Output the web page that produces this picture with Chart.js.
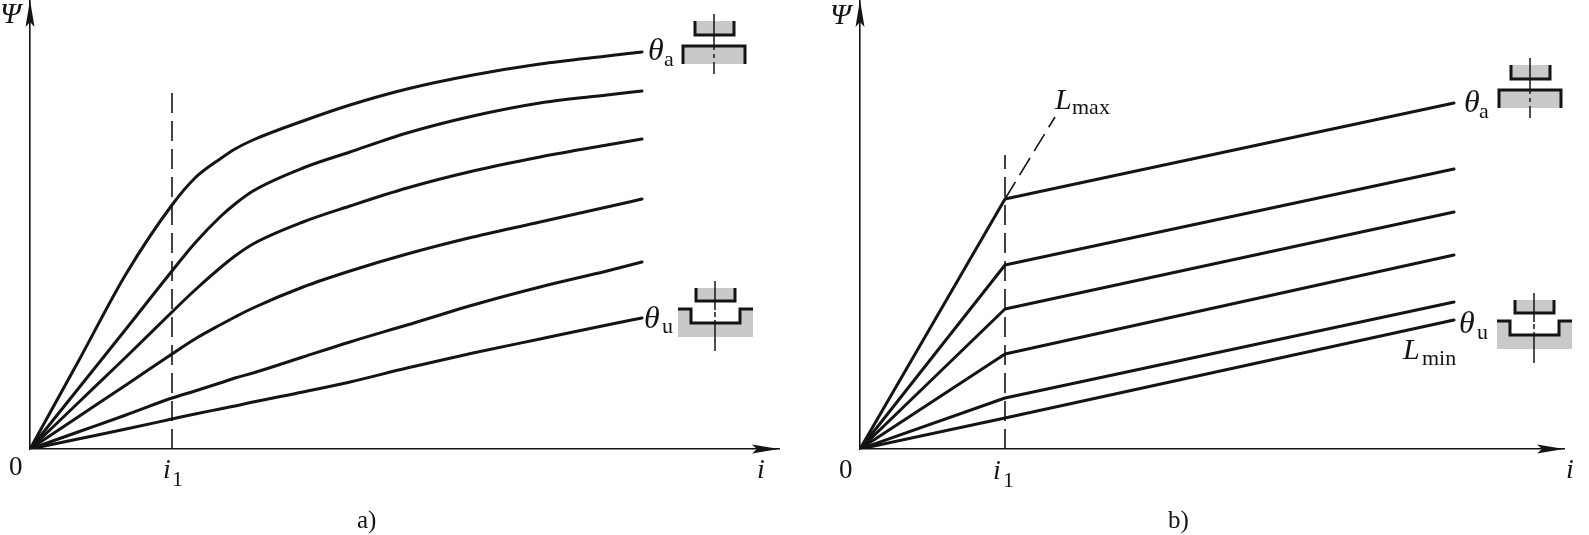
<!DOCTYPE html>
<html>
<head>
<meta charset="utf-8">
<title>Flux linkage curves</title>
<script src="https://cdn.jsdelivr.net/npm/chart.js@4"></script>
<style>
    html, body { margin: 0; padding: 0; background: #ffffff; }
    body { position: relative; width: 1589px; height: 535px; overflow: hidden; }
    canvas { position: absolute; top: 0; }
    #chartA { left: 0; }
    #chartB { left: 800px; }
</style>
</head>
<body>
<canvas id="chartA" width="800" height="535"></canvas>
<canvas id="chartB" width="789" height="535"></canvas>
<script>
// Panel a) saturating curves
const iA = [0, 48, 96, 142, 165, 190, 205, 223, 273, 320, 377, 443, 510, 577, 612];
const psiA1 = [0, 87, 175, 244, 271, 290, 300, 309, 328, 344, 360, 374, 385, 393, 397];
const psiA2 = [0, 60, 120, 178, 206, 232, 245, 258, 281, 297, 316, 333, 346, 354, 358];
const psiA3 = [0, 46, 92, 137, 159, 181, 193, 205, 227, 243, 261, 278, 292, 304, 310];
const psiA4 = [0, 32, 64, 95, 110, 124, 132, 141, 162, 178, 195, 212, 227, 242, 250];
const psiA5 = [0, 17, 34, 51, 58, 66, 71, 76, 92, 107, 124, 144, 162, 178, 187];
const psiA6 = [0, 10, 20, 30, 35, 40, 43, 47, 57, 67, 81, 96, 110, 124, 131];
const i1A = [142, 142];
const i1LineA = [0, 356];

// Panel b) piecewise linear curves
const iB = [0, 145, 594];
const psiB1 = [0, 250, 346];
const psiB2 = [0, 184, 280];
const psiB3 = [0, 140, 237];
const psiB4 = [0, 95, 194];
const psiB5 = [0, 51, 147];
const psiB6 = [0, 31, 129];
const i1B = [145, 145];
const i1LineB = [0, 294];
const lMaxI = [145, 195];
const lMaxPsi = [250, 332];

const INK = '#141414';
const GREY = '#c9c9c9';
const SERIF = '"Liberation Serif", "DejaVu Serif", serif';

function toPoints(xs, ys) {
    return xs.map((x, k) => ({ x: x, y: ys[k] }));
}

function curve(xs, ys, smooth) {
    return {
        data: toPoints(xs, ys),
        borderColor: INK,
        borderWidth: 3,
        pointRadius: 0,
        fill: false,
        borderCapStyle: 'round',
        borderJoinStyle: 'round',
        cubicInterpolationMode: smooth ? 'monotone' : 'default',
        tension: 0
    };
}

function dashed(xs, ys) {
    return {
        data: toPoints(xs, ys),
        borderColor: INK,
        borderWidth: 1.6,
        borderDash: [20, 8],
        pointRadius: 0,
        fill: false,
        tension: 0
    };
}

// Text pieces: [text, i, psi, font]
const MATH = 'italic 30px ' + SERIF;
const THETA = 'italic 32px ' + SERIF;
const UPRIGHT = '27px ' + SERIF;
const SUB = '22px ' + SERIF;

const labelsA = [
    ['Ψ', -30, 426, MATH],
    ['0', -21, -26, UPRIGHT],
    ['i', 133, -29, 'italic 28px ' + SERIF],
    ['1', 142, -37, SUB],
    ['i', 727, -29, 'italic 28px ' + SERIF],
    ['θ', 618, 389, THETA],
    ['a', 634, 383, SUB],
    ['θ', 614, 121, THETA],
    ['u', 632, 116, SUB],
    ['a)', 327, -79, '25px ' + SERIF]
];

const labelsB = [
    ['Ψ', -30, 425, MATH],
    ['0', -21, -29, UPRIGHT],
    ['i', 133, -30, 'italic 28px ' + SERIF],
    ['1', 143, -38, SUB],
    ['i', 706, -29, 'italic 28px ' + SERIF],
    ['θ', 604, 337, THETA],
    ['a', 619, 331, SUB],
    ['θ', 599, 116, THETA],
    ['u', 617, 110, SUB],
    ['L', 195, 340, MATH],
    ['max', 212, 335, SUB],
    ['L', 543, 90, MATH],
    ['min', 562, 84, SUB],
    ['b)', 308, -79, '25px ' + SERIF]
];

// Small bearing sketches next to the curve ends: [kind, i, psi]
const sketchesA = [['aligned', 684, 403], ['unaligned', 685, 140]];
const sketchesB = [['aligned', 670, 359], ['unaligned', 674, 128]];

function polyline(ctx, pts) {
    ctx.beginPath();
    pts.forEach((p, k) => k ? ctx.lineTo(p[0], p[1]) : ctx.moveTo(p[0], p[1]));
    ctx.stroke();
}

function drawAligned(ctx, cx, cy) {
    ctx.fillStyle = GREY;
    ctx.fillRect(cx - 19, cy - 25, 39, 14);
    ctx.fillRect(cx - 31, cy, 62, 18);

    ctx.strokeStyle = INK;
    ctx.lineWidth = 1.5;
    polyline(ctx, [[cx, cy - 32], [cx, cy + 28]]);
    ctx.strokeStyle = GREY;
    ctx.lineWidth = 2;
    polyline(ctx, [[cx, cy + 4], [cx, cy + 8]]);
    polyline(ctx, [[cx, cy + 12], [cx, cy + 16]]);

    ctx.strokeStyle = INK;
    ctx.lineWidth = 3;
    polyline(ctx, [[cx - 19, cy - 25], [cx - 19, cy - 11], [cx + 20, cy - 11], [cx + 20, cy - 25]]);
    polyline(ctx, [[cx - 31, cy + 18], [cx - 31, cy], [cx + 31, cy], [cx + 31, cy + 18]]);
}

function drawUnaligned(ctx, cx, cy) {
    ctx.fillStyle = GREY;
    ctx.fillRect(cx - 19, cy - 21, 39, 13);
    ctx.beginPath();
    ctx.moveTo(cx - 37, cy);
    ctx.lineTo(cx - 24, cy);
    ctx.lineTo(cx - 24, cy + 14);
    ctx.lineTo(cx + 25, cy + 14);
    ctx.lineTo(cx + 25, cy);
    ctx.lineTo(cx + 38, cy);
    ctx.lineTo(cx + 38, cy + 28);
    ctx.lineTo(cx - 37, cy + 28);
    ctx.closePath();
    ctx.fill();

    ctx.strokeStyle = INK;
    ctx.lineWidth = 1.5;
    polyline(ctx, [[cx, cy - 28], [cx, cy + 42]]);
    ctx.strokeStyle = '#ffffff';
    ctx.lineWidth = 2;
    polyline(ctx, [[cx, cy + 1], [cx, cy + 3]]);
    polyline(ctx, [[cx, cy + 8], [cx, cy + 11]]);

    ctx.strokeStyle = INK;
    ctx.lineWidth = 3;
    polyline(ctx, [[cx - 19, cy - 21], [cx - 19, cy - 8], [cx + 20, cy - 8], [cx + 20, cy - 21]]);
    polyline(ctx, [[cx - 37, cy], [cx - 24, cy], [cx - 24, cy + 14], [cx + 25, cy + 14], [cx + 25, cy], [cx + 38, cy]]);
}

// Axis arrow heads, labels and the little sketches
const decorations = {
    id: 'decorations',
    afterDatasetsDraw(chart, args, opts) {
        const ctx = chart.ctx;
        const { x, y } = chart.scales;
        const x0 = x.getPixelForValue(0);
        const y0 = y.getPixelForValue(0);
        const tipX = x.getPixelForValue(x.max);
        const tipY = y.getPixelForValue(y.max);

        ctx.save();
        ctx.lineCap = 'butt';
        ctx.fillStyle = INK;
        ctx.beginPath();
        ctx.moveTo(x0, tipY);
        ctx.lineTo(x0 + 4.5, tipY + 27);
        ctx.lineTo(x0, tipY + 22);
        ctx.lineTo(x0 - 4.5, tipY + 27);
        ctx.closePath();
        ctx.fill();
        ctx.beginPath();
        ctx.moveTo(tipX, y0);
        ctx.lineTo(tipX - 27, y0 + 4.5);
        ctx.lineTo(tipX - 22, y0);
        ctx.lineTo(tipX - 27, y0 - 4.5);
        ctx.closePath();
        ctx.fill();

        opts.sketches.forEach(s => {
            const cx = Math.round(x.getPixelForValue(s[1]));
            const cy = Math.round(y.getPixelForValue(s[2]));
            if (s[0] === 'aligned') drawAligned(ctx, cx, cy);
            else drawUnaligned(ctx, cx, cy);
        });

        ctx.fillStyle = INK;
        ctx.textAlign = 'left';
        ctx.textBaseline = 'alphabetic';
        opts.labels.forEach(l => {
            ctx.font = l[3];
            ctx.fillText(l[0], x.getPixelForValue(l[1]), y.getPixelForValue(l[2]));
        });
        ctx.restore();
    }
};

function makeChart(id, datasets, padLeft, iMax, labels, sketches) {
    const canvas = document.getElementById(id);
    return new Chart(canvas.getContext('2d'), {
        type: 'line',
        data: { datasets: datasets },
        plugins: [decorations],
        options: {
            responsive: false,
            animation: false,
            parsing: false,
            normalized: true,
            layout: { autoPadding: false, padding: { left: padLeft, right: canvas.width - padLeft - iMax, top: 0, bottom: 86 } },
            plugins: {
                legend: { display: false },
                tooltip: { enabled: false },
                decorations: { labels: labels, sketches: sketches }
            },
            scales: {
                x: {
                    type: 'linear',
                    min: 0,
                    max: iMax,
                    grid: { display: false, drawTicks: false, tickLength: 0 },
                    ticks: { display: false },
                    border: { display: true, color: INK, width: 1.6 }
                },
                y: {
                    type: 'linear',
                    min: 0,
                    max: 449,
                    grid: { display: false, drawTicks: false, tickLength: 0 },
                    ticks: { display: false },
                    border: { display: true, color: INK, width: 1.6 }
                }
            }
        }
    });
}

makeChart('chartA', [
    dashed(i1A, i1LineA),
    curve(iA, psiA1, true),
    curve(iA, psiA2, true),
    curve(iA, psiA3, true),
    curve(iA, psiA4, true),
    curve(iA, psiA5, true),
    curve(iA, psiA6, true)
], 30, 749, labelsA, sketchesA);

makeChart('chartB', [
    dashed(i1B, i1LineB),
    dashed(lMaxI, lMaxPsi),
    curve(iB, psiB1, false),
    curve(iB, psiB2, false),
    curve(iB, psiB3, false),
    curve(iB, psiB4, false),
    curve(iB, psiB5, false),
    curve(iB, psiB6, false)
], 60, 704, labelsB, sketchesB);
</script>
</body>
</html>
